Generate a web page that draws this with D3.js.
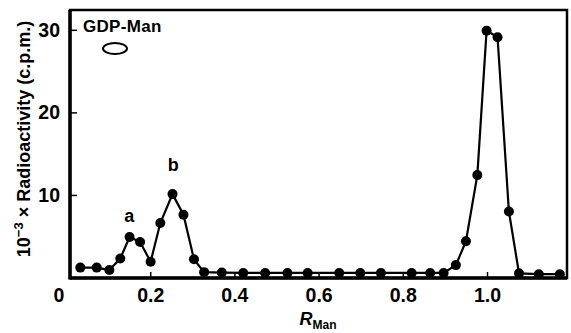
<!DOCTYPE html>
<html>
<head>
<meta charset="utf-8">
<script src="https://cdn.jsdelivr.net/npm/d3@7"></script>
<style>
	body { margin: 0; background: #fff; }
	svg { display: block; font-family: "Liberation Sans", Arial, sans-serif; }
</style>
</head>
<body>
<svg id="graph"></svg>
<script>
// R_Man positions of each fraction
const rMan = [0.034, 0.073, 0.103, 0.129, 0.151, 0.176, 0.201, 0.224, 0.253, 0.279,
	0.304, 0.328, 0.370, 0.421, 0.473, 0.526, 0.574, 0.649, 0.699, 0.748,
	0.821, 0.865, 0.897, 0.926, 0.950, 0.977, 0.999, 1.025, 1.052, 1.076,
	1.123, 1.173];
// 10^-3 x radioactivity (c.p.m.)
const radio = [1.2, 1.2, 0.9, 2.3, 4.9, 4.3, 1.9, 6.6, 10.1, 7.6,
	2.2, 0.65, 0.6, 0.55, 0.55, 0.55, 0.55, 0.55, 0.55, 0.55,
	0.55, 0.55, 0.55, 1.5, 4.4, 12.4, 29.9, 29.1, 8.0, 0.5,
	0.4, 0.4];
const xTicks = [0.2, 0.4, 0.6, 0.8, 1.0];
const yTicks = [10, 20, 30];
// peak names, placed in data units
const peakLabels = [{ name: "a", x: 0.150, y: 6.7 }, { name: "b", x: 0.255, y: 12.9 }];

const w = 571, h = 333;
const svg = d3.select("#graph").attr("width", w).attr("height", h);

const padL = 70, padR = 567, padT = 10, padB = 278;

const x = d3.scaleLinear().domain([0.0095, 1.19]).range([padL, padR]);
const y = d3.scaleLinear().domain([0, 32.4]).range([277.5, padT]);

// x axis (ticks point inward)
const xAxis = svg.append("g")
	.attr("transform", "translate(0," + padB + ")")
	.call(d3.axisBottom(x).tickValues(xTicks).tickSize(-6).tickPadding(10).tickFormat(d3.format(".1f")));
xAxis.select(".domain").remove();
xAxis.selectAll("line").attr("stroke-width", 1.5);
xAxis.selectAll("text").attr("font-size", 19.5).attr("font-weight", "bold").attr("fill", "#000");

// zero label sits left of the frame
svg.append("text")
	.attr("x", x(0) - 7).attr("y", 302)
	.attr("text-anchor", "middle")
	.attr("font-size", 19.5).attr("font-weight", "bold")
	.text("0");

// y axis
const yAxis = svg.append("g")
	.attr("transform", "translate(" + padL + ",0)")
	.call(d3.axisLeft(y).tickValues(yTicks).tickSize(-7).tickPadding(10));
yAxis.select(".domain").remove();
yAxis.selectAll("line").attr("stroke-width", 1.5);
yAxis.selectAll("text").attr("font-size", 19.5).attr("font-weight", "bold").attr("fill", "#000");

// frame
svg.append("path")
	.attr("d", `M${padL},${padT}H${padR}V${padB}H${padL}Z`)
	.attr("fill", "none").attr("stroke", "#000").attr("stroke-width", 2.5);
svg.append("line").attr("x1", padL).attr("x2", padL).attr("y1", padT).attr("y2", padB + 1.5)
	.attr("stroke", "#000").attr("stroke-width", 3.5);
svg.append("line").attr("x1", padL).attr("x2", padR).attr("y1", padB).attr("y2", padB)
	.attr("stroke", "#000").attr("stroke-width", 3.5);

// data line + points
const line = d3.line().x((d, i) => x(rMan[i])).y((d) => y(d));
svg.append("path")
	.datum(radio)
	.attr("d", line)
	.attr("fill", "none").attr("stroke", "#000").attr("stroke-width", 2.2);
svg.selectAll("circle.pt")
	.data(radio)
	.enter()
	.append("circle")
	.attr("class", "pt")
	.attr("cx", (d, i) => x(rMan[i]))
	.attr("cy", (d) => y(d))
	.attr("r", 5)
	.attr("fill", "#000");

// peak labels
svg.selectAll("text.peak")
	.data(peakLabels)
	.enter()
	.append("text")
	.attr("class", "peak")
	.attr("x", (d) => x(d.x))
	.attr("y", (d) => y(d.y))
	.attr("text-anchor", "middle")
	.attr("font-size", 18).attr("font-weight", "bold")
	.text((d) => d.name);

// GDP-Man marker
svg.append("text")
	.attr("x", 83).attr("y", 32)
	.attr("font-size", 17).attr("font-weight", "bold")
	.attr("letter-spacing", 0.3)
	.text("GDP-Man");
svg.append("ellipse")
	.attr("cx", 115).attr("cy", 48.5).attr("rx", 12).attr("ry", 5.5)
	.attr("fill", "none").attr("stroke", "#000").attr("stroke-width", 2);

// axis titles
const yTitle = svg.append("text")
	.attr("transform", "translate(30," + 139 + ") rotate(-90)")
	.attr("text-anchor", "middle")
	.attr("font-size", 18).attr("font-weight", "bold");
yTitle.append("tspan").text("10");
yTitle.append("tspan").attr("dy", -7).attr("font-size", 13).text("\u22123");
yTitle.append("tspan").attr("dy", 7).text(" \u00d7 Radioactivity (c.p.m.)");

const xTitle = svg.append("text")
	.attr("x", 318).attr("y", 325)
	.attr("text-anchor", "middle")
	.attr("font-size", 18).attr("font-weight", "bold");
xTitle.append("tspan").attr("font-style", "italic").text("R");
xTitle.append("tspan").attr("dy", 4).attr("font-size", 12).text("Man");
</script>
</body>
</html>
